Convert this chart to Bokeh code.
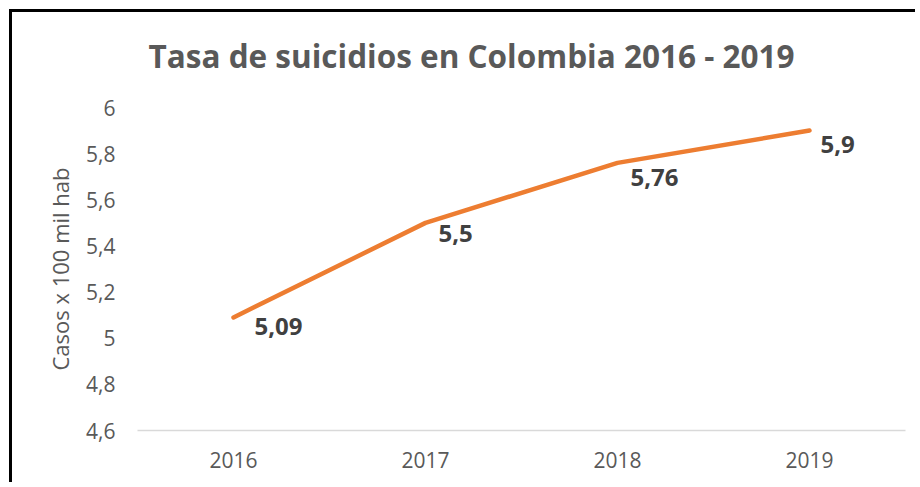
from bokeh.plotting import figure
from bokeh.models import Range1d, FactorRange, FixedTicker, ColumnDataSource, Title
from bokeh.core.properties import value
from bokeh.embed import file_html
from bokeh.resources import INLINE

# ---- data ----
years = ["2016", "2017", "2018", "2019"]
rates = [5.09, 5.5, 5.76, 5.9]
rate_labels = ["5,09", "5,5", "5,76", "5,9"]
y_ticks = [4.6, 4.8, 5.0, 5.2, 5.4, 5.6, 5.8, 6.0]
y_tick_labels = ["4,6", "4,8", "5", "5,2", "5,4", "5,6", "5,8", "6"]
title_text = "Tasa de suicidios en Colombia 2016 - 2019"
y_axis_title = "Casos x 100 mil hab"

# label offsets (style, pixels)
dx = [21, 13, 13, 11]
dy = [9, 11, 15, 14]

FONT = "Open Sans"

p = figure(
    width=906, height=473,
    x_range=FactorRange(*years),
    y_range=Range1d(4.6, 6.0),
    output_backend="svg",
    toolbar_location=None,
    title=None,
    min_border_left=125, min_border_right=13,
    min_border_top=95, min_border_bottom=55,
)
p.styles = {"border-left": "3px solid black", "border-top": "3px solid black",
            "margin-left": "9px", "margin-top": "9px"}
p.outline_line_color = None
p.background_fill_color = "white"
p.border_fill_color = "white"
p.xgrid.grid_line_color = None
p.ygrid.grid_line_color = None

# spacer between title and plot area, then the title itself
spacer = Title(text=" ", text_font_size="2px", standoff=27)
p.add_layout(spacer, "above")
main_title = Title(text=title_text, align="left", offset=11, standoff=0,
                   text_font=FONT, text_font_size="31.5px",
                   text_font_style="bold", text_color="#595959")
p.add_layout(main_title, "above")

# x axis
p.xaxis.axis_line_color = "#d9d9d9"
p.xaxis.axis_line_width = 1.5
p.xaxis.major_tick_line_color = None
p.xaxis.minor_tick_line_color = None
p.xaxis.major_label_text_font = FONT
p.xaxis.major_label_text_font_size = "21px"
p.xaxis.major_label_text_color = "#595959"
p.xaxis.major_label_standoff = 15

# y axis
p.yaxis.axis_line_color = None
p.yaxis.major_tick_line_color = None
p.yaxis.minor_tick_line_color = None
p.yaxis.ticker = FixedTicker(ticks=y_ticks)
p.yaxis.major_label_overrides = {t: l for t, l in zip(y_ticks, y_tick_labels)}
p.yaxis.major_label_text_font = FONT
p.yaxis.major_label_text_font_size = "21px"
p.yaxis.major_label_text_color = "#595959"
p.yaxis.major_label_standoff = 16
p.yaxis.axis_label = y_axis_title
p.yaxis.axis_label_text_font = FONT
p.yaxis.axis_label_text_font_size = "22px"
p.yaxis.axis_label_text_font_style = "normal"
p.yaxis.axis_label_text_color = "#595959"
p.yaxis.axis_label_standoff = 8

src = ColumnDataSource(dict(x=years, y=rates, t=rate_labels, dx=dx, dy=dy))
p.line("x", "y", source=src, line_color="#ED7D31", line_width=4.5,
       line_cap="round", line_join="round")
p.text("x", "y", text="t", source=src, x_offset="dx", y_offset="dy",
       text_font=value(FONT), text_font_style="bold", text_font_size="24px",
       text_color="#404040", text_align="left", text_baseline="alphabetic")

open("out.html", "w").write(file_html(p, INLINE))
